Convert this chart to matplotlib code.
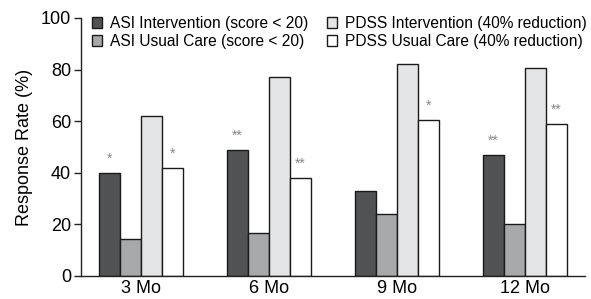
import matplotlib
matplotlib.use("Agg")
import matplotlib.pyplot as plt
import numpy as np

plt.rcParams['font.family'] = ['Liberation Sans', 'DejaVu Sans']

categories = ["3 Mo", "6 Mo", "9 Mo", "12 Mo"]
series_names = ["ASI Intervention (score < 20)", "ASI Usual Care (score < 20)",
                "PDSS Intervention (40% reduction)", "PDSS Usual Care (40% reduction)"]
asi_int = [40, 49, 33, 47]
asi_uc = [14.5, 16.5, 24, 20]
pdss_int = [62, 77, 82, 80.5]
pdss_uc = [42, 38, 60.5, 59]
asi_int_sig = ["*", "**", "", "**"]
pdss_uc_sig = ["*", "**", "*", "**"]

colors = ["#505254", "#a7a8aa", "#e4e5e7", "#ffffff"]
series = [asi_int, asi_uc, pdss_int, pdss_uc]

fig = plt.figure(figsize=(5.91, 2.99), dpi=100)
ax = fig.add_axes([0.137, 0.077, 0.853, 0.863])

x = np.arange(len(categories))
w = 0.164
offsets = [-1.5, -0.5, 0.5, 1.5]
for s, vals, c, o in zip(series_names, series, colors, offsets):
    ax.bar(x + o * w, vals, w, color=c, edgecolor="#1a1a1a", linewidth=1.0, label=s)

for i in range(len(categories)):
    if asi_int_sig[i]:
        ax.annotate(asi_int_sig[i], (x[i] - 1.5 * w, asi_int[i]), xytext=(0, 5),
                    textcoords="offset points", ha="center", va="bottom",
                    fontsize=10, color="#888888")
    if pdss_uc_sig[i]:
        ax.annotate(pdss_uc_sig[i], (x[i] + 1.5 * w, pdss_uc[i]), xytext=(0, 5),
                    textcoords="offset points", ha="center", va="bottom",
                    fontsize=10, color="#888888")

ax.set_xlim(-0.47, 3.47)
ax.set_ylim(0, 100)
ax.set_yticks([0, 20, 40, 60, 80, 100])
ax.set_xticks(x)
ax.set_xticklabels(categories)
ax.tick_params(axis="x", length=0, labelsize=13, pad=3)
ax.tick_params(axis="y", length=5, width=1, labelsize=13, pad=2, color="#222222")
ax.set_ylabel("Response Rate (%)", fontsize=13, labelpad=6)
for sp in ["top", "right"]:
    ax.spines[sp].set_visible(False)
for sp in ["left", "bottom"]:
    ax.spines[sp].set_color("#222222")
    ax.spines[sp].set_linewidth(1.0)

ax.legend(ncol=2, loc="upper left", bbox_to_anchor=(0.0, 1.05), frameon=False,
          fontsize=11.2, handlelength=0.65, handleheight=0.65, handletextpad=0.5,
          columnspacing=1.2, labelspacing=0.2, borderaxespad=0.3)

fig.savefig("out.png", dpi=100)
